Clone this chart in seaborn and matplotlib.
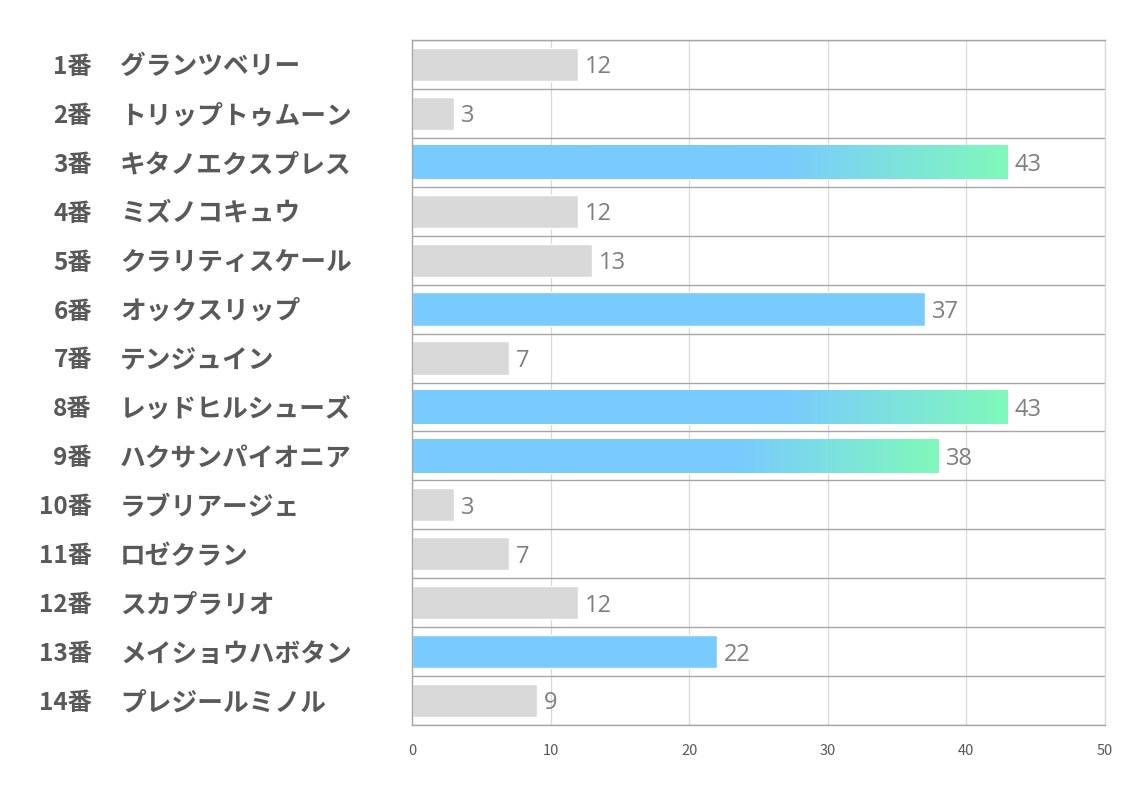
import matplotlib
matplotlib.use("Agg")
import matplotlib.pyplot as plt
import matplotlib.colors as mcolors
import seaborn as sns
import pandas as pd
import numpy as np

# ==============================
# Data
# ==============================
numbers = ["1番", "2番", "3番", "4番", "5番", "6番", "7番",
           "8番", "9番", "10番", "11番", "12番", "13番", "14番"]
names = ["グランツベリー", "トリップトゥムーン", "キタノエクスプレス", "ミズノコキュウ",
         "クラリティスケール", "オックスリップ", "テンジュイン", "レッドヒルシューズ",
         "ハクサンパイオニア", "ラブリアージェ", "ロゼクラン", "スカプラリオ",
         "メイショウハボタン", "プレジールミノル"]
scores = [12, 3, 43, 12, 13, 37, 7, 43, 38, 3, 7, 12, 22, 9]
# gray = normal, blue = highlighted, grad = highlighted with gradient tail
styles = ["gray", "gray", "grad", "gray", "gray", "blue", "gray",
          "grad", "grad", "gray", "gray", "gray", "blue", "gray"]
x_ticks = [0, 10, 20, 30, 40, 50]

GRAY = "#d9d9d9"
BLUE = "#79cbff"
GREEN = "#80f9bb"
TEXT = "#595959"

df = pd.DataFrame({"horse": names, "score": scores, "style": styles})
palette = {"gray": GRAY, "blue": BLUE, "grad": BLUE}

sns.set_style("white")
plt.rcParams["font.family"] = ["Noto Sans CJK JP", "DejaVu Sans"]

fig = plt.figure(figsize=(11.34, 7.93), dpi=100)
ax = fig.add_axes([412 / 1134, 1 - 725 / 793, 693 / 1134, 685 / 793])

sns.barplot(data=df, x="score", y="horse", hue="style", palette=palette,
            dodge=False, legend=False, width=0.68, ax=ax, saturation=1)

# gradient on the tail of the top bars
cmap = mcolors.LinearSegmentedColormap.from_list(
    "tail", [(0, BLUE), (0.62, BLUE), (1, GREEN)])
grad = np.linspace(0, 1, 256).reshape(1, -1)
for i, s in enumerate(styles):
    if s != "grad":
        continue
    ax.imshow(grad, cmap=cmap, aspect="auto", zorder=2.5,
              extent=(0, scores[i], i + 0.34, i - 0.34), interpolation="bilinear")
ax.set_xlim(0, 50)
ax.set_ylim(len(names) - 0.5, -0.5)

# value labels
for i, v in enumerate(scores):
    ax.text(v + 0.5, i + 0.06, str(v), va="center", ha="left", fontsize=17,
            color="#7f7f7f", zorder=4, family=["Open Sans", "DejaVu Sans"])

# row labels
trans = ax.get_yaxis_transform()
for i, (n, h) in enumerate(zip(numbers, names)):
    ax.text(-(412 - 92) / 693, i + 0.05, n, transform=trans, ha="right", va="center",
            fontsize=17.5, fontweight="bold", color=TEXT)
    ax.text(-(412 - 120) / 693, i + 0.05, h, transform=trans, ha="left", va="center",
            fontsize=18.5, fontweight="bold", color=TEXT)

ax.set_yticks([])
ax.set_yticks(np.arange(-0.5, len(names), 1), minor=True)
ax.set_xticks(x_ticks)
ax.set_xticklabels([str(t) for t in x_ticks], fontsize=10.5, color=TEXT)
ax.tick_params(axis="x", length=0, pad=14)
ax.tick_params(axis="y", which="both", length=0)
ax.set_xlabel("")
ax.set_ylabel("")

ax.grid(axis="x", which="major", color="#d9d9d9", linewidth=0.9, zorder=0)
ax.grid(axis="y", which="minor", color="#a6a6a6", linewidth=1.0, zorder=0)
ax.set_axisbelow(True)
for side in ["left", "bottom", "top", "right"]:
    ax.spines[side].set_color("#a6a6a6")
    ax.spines[side].set_linewidth(1.0)
ax.spines["right"].set_color("#d9d9d9")

fig.savefig("out.png", dpi=100, facecolor="white")
plt.close()
